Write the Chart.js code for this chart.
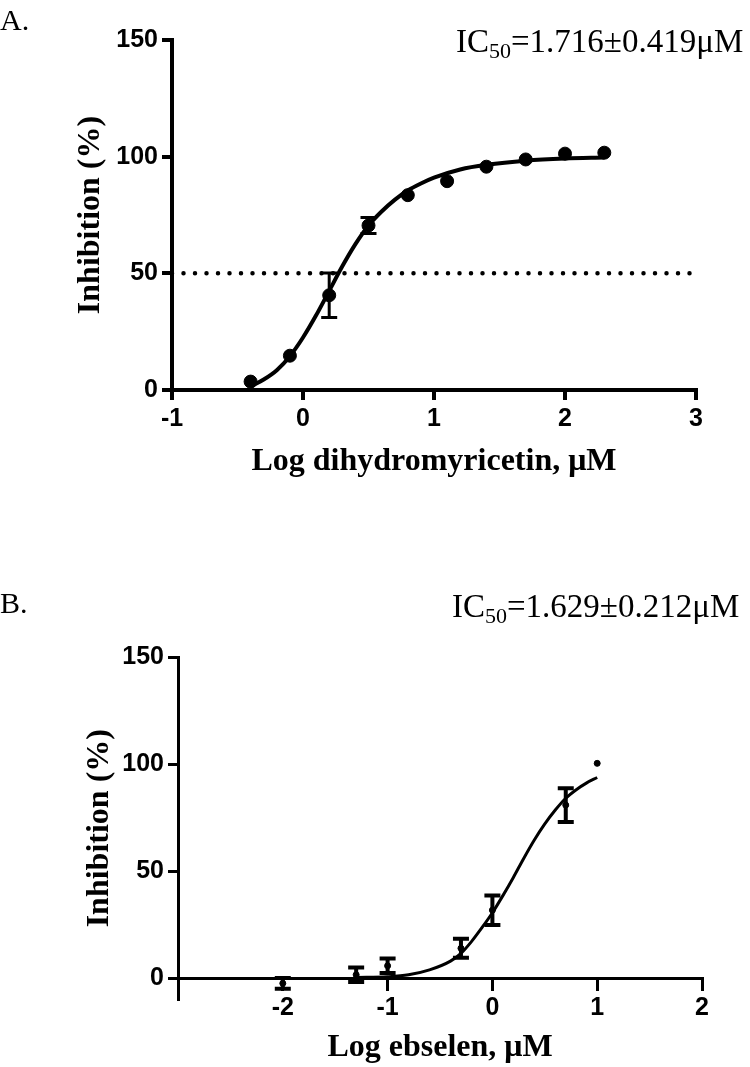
<!DOCTYPE html>
<html><head><meta charset="utf-8">
<script src="https://cdn.jsdelivr.net/npm/chart.js@4/dist/chart.umd.min.js"></script>
<style>
html,body{margin:0;padding:0;background:#fff;width:750px;height:1067px;overflow:hidden;position:relative}
.wrap{position:absolute;left:0}
.lbl{position:absolute;font-family:'Liberation Serif','Times New Roman',serif;color:#000;white-space:nowrap;line-height:1}
.ic{font-size:33px}
.ic sub{font-size:22px;vertical-align:baseline;position:relative;top:0.28em}
</style></head><body>
<div class="wrap" style="top:0"><canvas id="cA" width="750" height="482"></canvas></div>
<div class="wrap" style="top:560px"><canvas id="cB" width="750" height="507"></canvas></div>
<div class="lbl" style="left:0;top:5px;font-size:30px">A.</div>
<div class="lbl ic" style="left:456px;top:25px">IC<sub>50</sub>=1.716±0.419μM</div>
<div class="lbl" style="left:0;top:588px;font-size:30px">B.</div>
<div class="lbl ic" style="left:452px;top:590px">IC<sub>50</sub>=1.629±0.212μM</div>
<script>
// ---- Panel A: dihydromyricetin ----
const doseA  = [-0.4, -0.1, 0.2, 0.5, 0.8, 1.1, 1.4, 1.7, 2.0, 2.3];
const inhibA = [3.6, 14.7, 40.6, 70.5, 83.5, 89.5, 95.7, 98.8, 101.3, 101.7];
const errA   = [0, 0, 9.5, 3.4, 0, 0, 0, 0, 0, 0];
const fitDoseA  = [-0.4, -0.3, -0.2, -0.1, 0.0, 0.1, 0.2, 0.3, 0.4, 0.5, 0.6, 0.7, 0.8, 0.9, 1.0, 1.2, 1.4, 1.7, 2.0, 2.3];
const fitInhibA = [1.5, 4.5, 8.5, 14.5, 22.5, 32, 42.5, 53, 62.5, 70.5, 76.5, 81.5, 85.5, 88.5, 91, 94.5, 96.5, 98.3, 99.2, 99.6];
const halfDoseA  = [-1, 3];
const halfInhibA = [50, 50];
const xTicksA = [-1, 0, 1, 2, 3];
const yTicksA = [0, 50, 100, 150];

// ---- Panel B: ebselen ----
const doseB  = [-2.0, -1.3, -1.0, -0.3, 0.0, 0.7, 1.0];
const inhibB = [-2.5, 1.5, 5.7, 13.9, 31.7, 80.8, 100.3];
const errB   = [2.5, 3.4, 3.4, 4.4, 6.9, 7.9, 0];
const fitDoseB  = [-1.3, -1.0, -0.8, -0.6, -0.4, -0.3, -0.2, -0.1, 0.0, 0.1, 0.2, 0.3, 0.4, 0.5, 0.6, 0.7, 0.8, 0.9, 1.0];
const fitInhibB = [0.2, 0.6, 1.5, 3.8, 7.9, 11.5, 17, 23.5, 30.5, 38.5, 47, 56, 64.5, 72, 78.5, 84, 88, 91.2, 93.7];
const xTicksB = [-2, -1, 0, 1, 2];
const yTicksB = [0, 50, 100, 150];

const pts = (xs, ys) => xs.map((v, i) => ({x: v, y: ys[i]}));

const tickFont  = {family: "'Liberation Sans', Arial, sans-serif", size: 25, weight: 'bold', lineHeight: 1.2};
const titleFont = {family: "'Liberation Serif', 'Times New Roman', serif", size: 32, weight: 'bold', lineHeight: 1.2};

const errorBars = {
  id: 'errorBars',
  afterDatasetsDraw(chart) {
    const ctx = chart.ctx, xs = chart.scales.x, ys = chart.scales.y;
    chart.data.datasets.forEach(ds => {
      if (!ds.errors) return;
      ctx.save();
      ctx.strokeStyle = '#000';
      ctx.lineWidth = ds.errWidth;
      ctx.lineCap = 'butt';
      ds.data.forEach((p, j) => {
        const e = ds.errors[j];
        if (!e) return;
        const px = xs.getPixelForValue(p.x);
        const y1 = ys.getPixelForValue(p.y + e), y2 = ys.getPixelForValue(p.y - e);
        ctx.beginPath();
        ctx.moveTo(px, y1); ctx.lineTo(px, y2);
        ctx.moveTo(px - ds.capHalf, y1); ctx.lineTo(px + ds.capHalf, y1);
        ctx.moveTo(px - ds.capHalf, y2); ctx.lineTo(px + ds.capHalf, y2);
        ctx.stroke();
      });
      ctx.restore();
    });
  }
};

function axis(opts) {
  return {
    type: 'linear', min: opts.min, max: opts.max, position: opts.position,
    afterBuildTicks: s => { s.ticks = opts.ticks.map(v => ({value: v})); },
    afterFit: opts.fit,
    grid: {drawOnChartArea: false, drawTicks: true, tickLength: opts.tl, lineWidth: opts.lw, color: '#000'},
    border: {display: true, width: opts.lw, color: '#000'},
    ticks: {color: '#000', font: tickFont, padding: opts.pad, maxRotation: 0, autoSkip: false, callback: v => String(v)},
    title: {display: true, text: opts.title, color: '#000', font: titleFont, padding: opts.tpad}
  };
}

const common = {
  responsive: false, animation: false, events: [],
  plugins: {legend: {display: false}, tooltip: {enabled: false}}
};

new Chart(document.getElementById('cA'), {
  type: 'scatter',
  data: {datasets: [
    {data: pts(halfDoseA, halfInhibA), showLine: true, borderColor: '#000', borderWidth: 4.5,
     borderDash: [0, 11.5], borderCapStyle: 'round', pointRadius: 0},
    {data: pts(fitDoseA, fitInhibA), showLine: true, borderColor: '#000', borderWidth: 4,
     cubicInterpolationMode: 'monotone', pointRadius: 0},
    {data: pts(doseA, inhibA), showLine: false, pointRadius: 6.5, backgroundColor: '#000', borderColor: '#000',
     errors: errA, errWidth: 3, capHalf: 8}
  ]},
  options: Object.assign({}, common, {
    layout: {padding: {top: 40, right: 54, bottom: 0, left: 0}},
    scales: {
      x: axis({min: -1, max: 3, position: 'bottom', ticks: xTicksA, fit: s => { s.height = 92; },
               tl: 10, lw: 4, pad: 4, title: 'Log dihydromyricetin, μM', tpad: {top: 0, bottom: 1}}),
      y: axis({min: 0, max: 150, position: 'left', ticks: yTicksA, fit: s => { s.width = 172; },
               tl: 10, lw: 4, pad: 4, title: 'Inhibition (%)', tpad: {top: 72, bottom: 0}})
    }
  }),
  plugins: [errorBars]
});

new Chart(document.getElementById('cB'), {
  type: 'scatter',
  data: {datasets: [
    {data: pts(fitDoseB, fitInhibB), showLine: true, borderColor: '#000', borderWidth: 3,
     cubicInterpolationMode: 'monotone', pointRadius: 0},
    {data: pts(doseB, inhibB), showLine: false, pointRadius: 3, backgroundColor: '#000', borderColor: '#000',
     errors: errB, errWidth: 4, capHalf: 8}
  ]},
  options: Object.assign({}, common, {
    layout: {padding: {top: 97, right: 48, bottom: 67.6, left: 0}},
    scales: {
      x: axis({min: -3, max: 2, position: {y: 0}, ticks: xTicksB, fit: s => { s.height = 90; },
               tl: 11, lw: 3, pad: 4, title: 'Log ebselen, μM', tpad: {top: 0, bottom: 1}}),
      y: axis({min: -10, max: 150, position: 'left', ticks: yTicksB, fit: s => { s.width = 178; },
               tl: 10, lw: 3, pad: 4, title: 'Inhibition (%)', tpad: {top: 81, bottom: 0}})
    }
  }),
  plugins: [errorBars]
});
</script>
</body></html>
